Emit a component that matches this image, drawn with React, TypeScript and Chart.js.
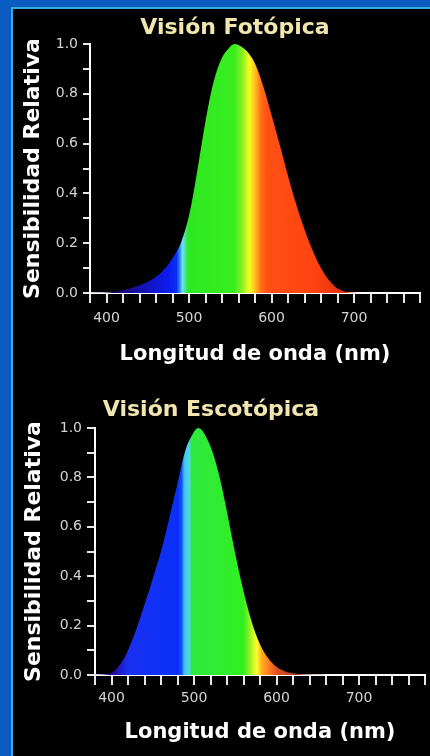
import React, { useEffect, useRef } from "react";
import { Chart, registerables } from "chart.js";

Chart.register(...registerables);

// ---- data ----
const photopicWavelengths = [380, 390, 400, 410, 420, 430, 440, 450, 460, 470, 480, 490, 500, 510, 520, 530, 540, 550, 555, 560, 570, 580, 590, 600, 610, 620, 630, 640, 650, 660, 670, 680, 690, 700, 710, 720, 740, 760, 780];
const photopicValues = [0.0, 0.001, 0.002, 0.005, 0.011, 0.02, 0.031, 0.045, 0.065, 0.095, 0.14, 0.2, 0.31, 0.49, 0.69, 0.85, 0.945, 0.99, 1.0, 0.996, 0.972, 0.922, 0.83, 0.715, 0.595, 0.47, 0.355, 0.255, 0.17, 0.1, 0.05, 0.018, 0.005, 0.001, 0, 0, 0, 0, 0];

const scotopicWavelengths = [380, 390, 400, 410, 420, 430, 440, 450, 460, 470, 480, 490, 500, 505, 510, 520, 530, 540, 550, 560, 570, 580, 590, 600, 610, 620, 630, 640, 650, 660, 680, 700, 720, 740, 760, 780];
const scotopicValues = [0.001, 0.002, 0.008, 0.04, 0.1, 0.185, 0.285, 0.39, 0.5, 0.635, 0.775, 0.915, 0.985, 1.0, 0.99, 0.925, 0.815, 0.66, 0.49, 0.34, 0.215, 0.125, 0.068, 0.033, 0.015, 0.007, 0.0035, 0.0016, 0.0007, 0.0003, 0, 0, 0, 0, 0, 0];

const xTickLabels = [400, 500, 600, 700];
const yTickLabels = ["0.0", "0.2", "0.4", "0.6", "0.8", "1.0"];

const titleTop = "Visión Fotópica";
const titleBottom = "Visión Escotópica";
const yTitle = "Sensibilidad Relativa";
const xTitle = "Longitud de onda (nm)";

// ---- spectral colour stops (style) ----
const stopsTop: [number, string][] = [
  [380, "#100030"], [420, "#1a0a80"], [450, "#1414c0"], [475, "#0a1cf0"], [485, "#0a30f8"],
  [489, "#3090ff"], [492, "#70e0ff"], [496, "#40e870"], [500, "#2ee820"], [555, "#38ee20"],
  [565, "#90f020"], [573, "#f8ff20"], [580, "#ffc020"], [587, "#ff7018"], [595, "#ff5014"],
  [650, "#ff4410"], [690, "#e03010"], [780, "#600000"],
];
const stopsBottom: [number, string][] = [
  [380, "#200050"], [405, "#2010b0"], [420, "#1a30f0"], [480, "#0a30f8"], [485, "#1050ff"],
  [488, "#40c0f0"], [494, "#50d8e8"], [497, "#30e840"], [560, "#30f020"], [568, "#a0f020"],
  [576, "#ffff30"], [582, "#ffb020"], [590, "#ff8020"], [600, "#e05020"], [640, "#803018"],
  [780, "#401008"],
];

const X_MIN = 380;
const X_MAX = 780;

Chart.defaults.font.family = "'DejaVu Sans', sans-serif";

const shiftTitle = {
  id: "shiftTitle",
  afterLayout(chart: any, _args: any, opts: any) {
    const t = chart.titleBlock;
    if (!t || opts == null || opts.centerX == null) return;
    const half = (t.right - t.left) / 2;
    t.left = opts.centerX - half;
    t.right = opts.centerX + half;
  },
};

type Cfg = {
  xs: number[];
  ys: number[];
  title: string;
  stops: [number, string][];
  layout: { left: number; right: number; top: number; bottom: number };
  yWidth: number;
  xHeight: number;
  titlePad: { top: number; bottom: number };
  yTitlePad: number;
  titleCenterX: number;
  yTickLen: number;
  xLabelPad: number;
};

function makeChart(canvas: HTMLCanvasElement, c: Cfg) {
  const data = c.xs.map((x, i) => ({ x, y: c.ys[i] }));
  return new Chart(canvas, {
    type: "line",
    data: {
      datasets: [
        {
          data,
          fill: "origin",
          borderWidth: 0,
          borderColor: "rgba(0,0,0,0)",
          pointRadius: 0,
          tension: 0.35,
          backgroundColor: (ctx: any) => {
            const chart = ctx.chart;
            const xs = chart.scales?.x;
            if (!chart.chartArea || !xs) return "rgba(0,0,0,0)";
            const x0 = xs.getPixelForValue(X_MIN);
            const x1 = xs.getPixelForValue(X_MAX);
            const g = chart.ctx.createLinearGradient(x0, 0, x1, 0);
            c.stops.forEach(([w, col]) => g.addColorStop((w - X_MIN) / (X_MAX - X_MIN), col));
            return g;
          },
        },
      ],
    },
    options: {
      responsive: false,
      animation: false,
      events: [],
      layout: { padding: c.layout },
      plugins: {
        legend: { display: false },
        tooltip: { enabled: false },
        title: {
          display: true,
          text: c.title,
          color: "#f0e6ae",
          font: { size: 22, weight: "bold" },
          padding: c.titlePad,
        },
        // @ts-ignore
        shiftTitle: { centerX: c.titleCenterX },
      },
      scales: {
        x: {
          type: "linear",
          min: X_MIN,
          max: X_MAX,
          afterFit: (s: any) => { s.height = c.xHeight; },
          ticks: {
            stepSize: 20,
            autoSkip: false,
            maxRotation: 0,
            color: "#d4d4d4",
            font: { size: 14 },
            padding: c.xLabelPad,
            callback: (v: any) => (xTickLabels.includes(Number(v)) ? String(v) : ""),
          },
          grid: { drawOnChartArea: false, drawTicks: true, tickLength: 10, color: "#e6e6e6", lineWidth: 2 },
          border: { display: true, color: "#ffffff", width: 2 },
          title: {
            display: true,
            text: xTitle,
            color: "#ffffff",
            font: { size: 21, weight: "bold" },
            padding: { top: 0, bottom: 6 },
          },
        },
        y: {
          type: "linear",
          min: 0,
          max: 1,
          afterFit: (s: any) => { s.width = c.yWidth; },
          ticks: {
            stepSize: 0.1,
            autoSkip: false,
            color: "#d4d4d4",
            font: { size: 14 },
            padding: 5,
            callback: (v: any) => {
              const s = Number(v).toFixed(1);
              return yTickLabels.includes(s) ? s : "";
            },
          },
          grid: { drawOnChartArea: false, drawTicks: true, tickLength: c.yTickLen, color: "#e6e6e6", lineWidth: 2 },
          border: { display: true, color: "#ffffff", width: 2 },
          title: {
            display: true,
            text: yTitle,
            color: "#ffffff",
            font: { size: 22, weight: "bold" },
            padding: { top: c.yTitlePad, bottom: 0 },
          },
        },
      },
    },
    plugins: [shiftTitle as any],
  } as any);
}

function SpectrumChart({ cfg, top }: { cfg: Cfg; top: number }) {
  const ref = useRef<HTMLCanvasElement | null>(null);
  useEffect(() => {
    if (!ref.current) return;
    const ch = makeChart(ref.current, cfg);
    return () => ch.destroy();
  }, []);
  return (
    <canvas
      ref={ref}
      width={430}
      height={378}
      style={{ position: "absolute", left: 0, top, width: 430, height: 378, display: "block" }}
    />
  );
}

const topCfg: Cfg = {
  xs: photopicWavelengths,
  ys: photopicValues,
  title: titleTop,
  stops: stopsTop,
  layout: { left: 14, right: 10, top: 6, bottom: 5 },
  yWidth: 76,
  xHeight: 80,
  titlePad: { top: 9, bottom: 2.6 },
  yTitlePad: 6,
  titleCenterX: 235,
  yTickLen: 7,
  xLabelPad: 7,
};

const bottomCfg: Cfg = {
  xs: scotopicWavelengths,
  ys: scotopicValues,
  title: titleBottom,
  stops: stopsBottom,
  layout: { left: 14, right: 4, top: 10, bottom: 5 },
  yWidth: 81,
  xHeight: 76,
  titlePad: { top: 9, bottom: 4.6 },
  yTitlePad: 7,
  titleCenterX: 211,
  yTickLen: 8,
  xLabelPad: 5,
};

export default function App() {
  return (
    <div
      style={{
        position: "fixed",
        left: 0,
        top: 0,
        width: 430,
        height: 756,
        background: "#0b5cc2",
        overflow: "hidden",
      }}
    >
      <div
        style={{
          position: "absolute",
          left: 11,
          top: 7,
          right: 0,
          bottom: 0,
          background: "#000000",
          borderLeft: "2px solid #2fb0dc",
          borderTop: "2px solid #2fb0dc",
        }}
      />
      <SpectrumChart cfg={topCfg} top={0} />
      <SpectrumChart cfg={bottomCfg} top={378} />
    </div>
  );
}
